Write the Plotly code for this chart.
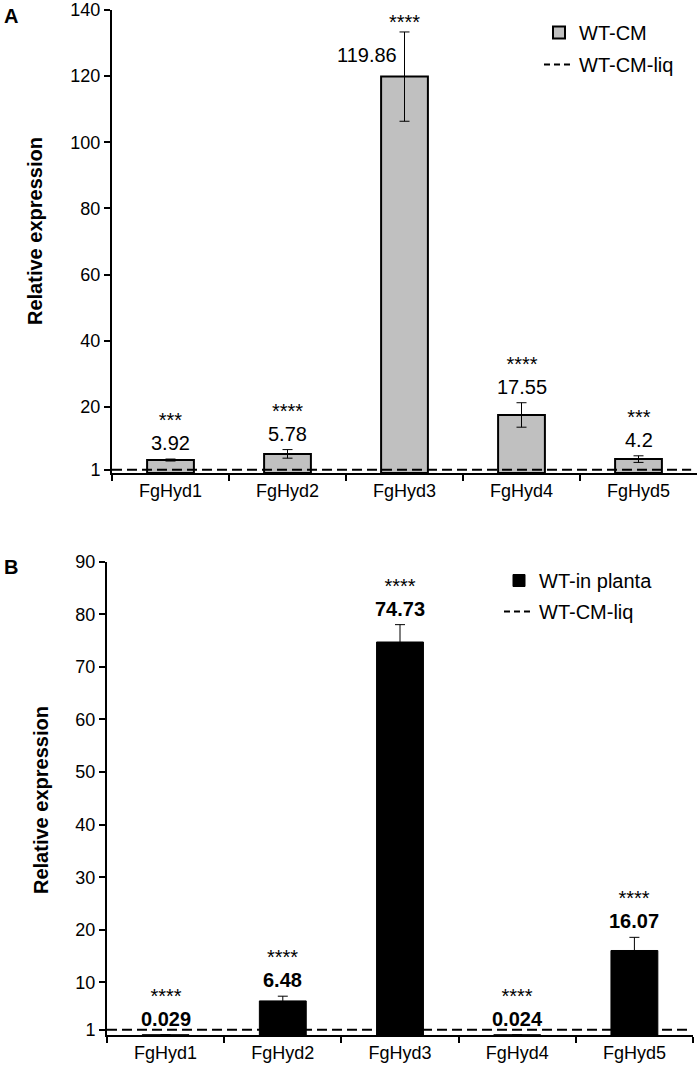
import plotly.graph_objects as go

# ---------------- data ----------------
genes = ["FgHyd1", "FgHyd2", "FgHyd3", "FgHyd4", "FgHyd5"]

a_values = [3.92, 5.78, 119.86, 17.55, 4.2]
a_errors = [0.3, 1.3, 13.5, 3.7, 1.0]
a_stars = ["***", "****", "****", "****", "***"]
a_labels = ["3.92", "5.78", "119.86", "17.55", "4.2"]
a_label_side = ["top", "top", "left", "top", "top"]

b_values = [0.029, 6.48, 74.73, 0.024, 16.07]
b_errors = [0.0, 0.9, 3.3, 0.0, 2.5]
b_stars = ["****", "****", "****", "****", "****"]
b_labels = ["0.029", "6.48", "74.73", "0.024", "16.07"]

baseline = [1]  # WT-CM-liq reference level

a_ticks = [1, 20, 40, 60, 80, 100, 120, 140]
b_ticks = [1, 10, 20, 30, 40, 50, 60, 70, 80, 90]

FONT = "Arial, Liberation Sans, sans-serif"
W, H = 700, 1072


def px(x):
    return x / W


def py(y):
    return 1 - y / H


fig = go.Figure()

fig.add_trace(go.Bar(
    x=genes, y=a_values, width=0.4, name="WT-CM", legendgroup="a1",
    marker=dict(color="#c0c0c0", line=dict(color="black", width=2)),
    error_y=dict(type="data", array=a_errors, color="black", thickness=1, width=5),
    xaxis="x", yaxis="y", legend="legend",
))
fig.add_trace(go.Scatter(
    x=[None], y=[None], mode="lines", name="WT-CM-liq", legendgroup="a2",
    line=dict(color="black", width=2, dash="6px,4px"),
    xaxis="x", yaxis="y", legend="legend",
))
fig.add_trace(go.Bar(
    x=genes, y=b_values, width=0.4, name="WT-in planta", legendgroup="b1",
    marker=dict(color="black", line=dict(color="black", width=1)),
    error_y=dict(type="data", array=b_errors, color="black", thickness=1, width=5),
    xaxis="x2", yaxis="y2", legend="legend2",
))
fig.add_trace(go.Scatter(
    x=[None], y=[None], mode="lines", name="WT-CM-liq", legendgroup="b2",
    line=dict(color="black", width=2, dash="6px,4px"),
    xaxis="x2", yaxis="y2", legend="legend2",
))

# dashed reference lines across each plot
for xr, yr in (("x domain", "y"), ("x2 domain", "y2")):
    fig.add_shape(type="line", xref=xr, yref=yr, x0=0, x1=0.99,
                  y0=baseline[0], y1=baseline[0],
                  line=dict(color="black", width=2, dash="10px,5px"))

ann = []
SPAN = "<span style='font-size:20px'>{}</span>"


def add_labels(values, errors, labels, stars, xref, yref, bold, sides):
    for g, v, e, lab, st, side in zip(genes, values, errors, labels, stars, sides):
        top = v + e
        txt = f"<b>{lab}</b>" if bold else lab
        if side == "left":
            ann.append(dict(x=g, y=v, xref=xref, yref=yref, text=txt, showarrow=False,
                            xanchor="right", yanchor="bottom", xshift=-6, yshift=9,
                            font=dict(size=20, color="black", family=FONT)))
            ann.append(dict(x=g, y=top, xref=xref, yref=yref, text=st, showarrow=False,
                            xanchor="center", yanchor="bottom", yshift=-3,
                            font=dict(size=20, color="black", family=FONT)))
        else:
            both = SPAN.format(st) + "<br>" + SPAN.format(txt)
            ann.append(dict(x=g, y=top, xref=xref, yref=yref, text=both, showarrow=False,
                            xanchor="center", yanchor="bottom", yshift=3,
                            font=dict(size=18, color="black", family=FONT)))


add_labels(a_values, a_errors, a_labels, a_stars, "x", "y", False, a_label_side)
add_labels(b_values, b_errors, b_labels, b_stars, "x2", "y2", True, ["top"] * 5)

# panel letters and y titles
ann += [
    dict(x=px(2), y=py(16), xref="paper", yref="paper", text="<b>A</b>", showarrow=False,
         xanchor="left", yanchor="middle", font=dict(size=20, color="black", family=FONT)),
    dict(x=px(2), y=py(567), xref="paper", yref="paper", text="<b>B</b>", showarrow=False,
         xanchor="left", yanchor="middle", font=dict(size=20, color="black", family=FONT)),
    dict(x=px(35), y=py(231), xref="paper", yref="paper", text="<b>Relative expression</b>",
         showarrow=False, textangle=-90, xanchor="center", yanchor="middle",
         font=dict(size=20, color="black", family=FONT)),
    dict(x=px(41), y=py(800), xref="paper", yref="paper", text="<b>Relative expression</b>",
         showarrow=False, textangle=-90, xanchor="center", yanchor="middle",
         font=dict(size=20, color="black", family=FONT)),
]

xcommon = dict(type="category", tickson="boundaries", ticks="outside", ticklen=6,
               tickwidth=2, tickcolor="black", showline=True, linecolor="black", linewidth=2,
               showgrid=False, zeroline=False, automargin=False,
               tickfont=dict(size=18, color="black", family=FONT))
ycommon = dict(ticks="outside", ticklen=6, tickwidth=2, tickcolor="black", showline=True,
               linecolor="black", linewidth=2, showgrid=False, zeroline=False, automargin=False,
               ticklabeloverflow="allow",
               tickfont=dict(size=18, color="black", family=FONT))

fig.update_layout(
    width=W, height=H, template="none",
    paper_bgcolor="white", plot_bgcolor="white",
    margin=dict(l=0, r=0, t=0, b=0),
    bargap=0.6, showlegend=True,
    font=dict(family=FONT, color="black"),
    xaxis=dict(domain=[px(112), px(697)], anchor="y", **xcommon),
    yaxis=dict(domain=[py(473), py(10)], anchor="x", range=[0, 140],
               tickvals=a_ticks, **ycommon),
    xaxis2=dict(domain=[px(107), px(693)], anchor="y2", **xcommon),
    yaxis2=dict(domain=[py(1035), py(561.7)], anchor="x2", range=[0, 90],
                tickvals=b_ticks, **ycommon),
    legend=dict(x=px(539), y=py(13), xanchor="left", yanchor="top",
                bgcolor="rgba(0,0,0,0)", font=dict(size=20, color="black", family=FONT),
                tracegroupgap=3, itemwidth=30),
    legend2=dict(x=px(499), y=py(561), xanchor="left", yanchor="top",
                 bgcolor="rgba(0,0,0,0)", font=dict(size=20, color="black", family=FONT),
                 tracegroupgap=2, itemwidth=30),
    annotations=ann,
)

# remove the default 8px body margin so the figure fills the window exactly
fig.write_html("out.html", config={"displayModeBar": False},
               post_script="document.body.style.margin='0';document.body.style.overflow='hidden';")
